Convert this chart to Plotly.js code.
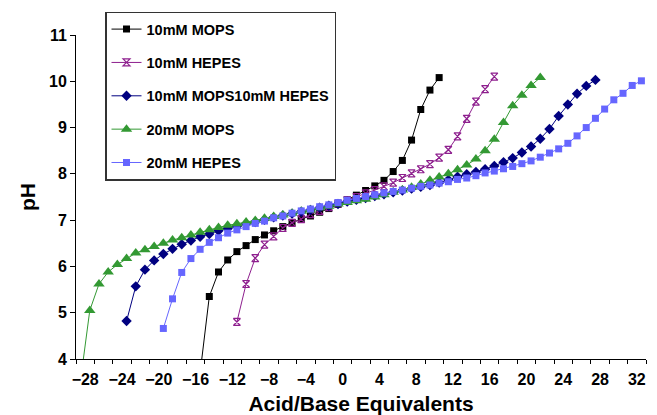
<!DOCTYPE html>
<html>
<head>
<meta charset="utf-8">
<script src="https://cdn.plot.ly/plotly-3.0.1.min.js"></script>
<style>html,body{margin:0;padding:0;background:#fff;}#chart{width:657px;height:415px;}</style>
</head>
<body>
<div id="chart"></div>
<script>
// Acid/Base equivalents (x) and pH (y) for each buffer series
const xMops10 = [-15.5,-14.5,-13.5,-12.5,-11.5,-10.5,-9.5,-8.5,-7.5,-6.5,-5.5,-4.5,-3.5,-2.5,-1.5,-0.5,0.5,1.5,2.5,3.5,4.5,5.5,6.5,7.5,8.5,9.5,10.5];
const yMops10 = [3.7,5.35,5.88,6.14,6.32,6.45,6.58,6.68,6.77,6.86,6.95,7.02,7.09,7.17,7.25,7.34,7.44,7.54,7.64,7.74,7.86,8.05,8.29,8.73,9.39,9.81,10.08];

const xHepes10 = [-11.5,-10.5,-9.5,-8.5,-7.5,-6.5,-5.5,-4.5,-3.5,-2.5,-1.5,-0.5,0.5,1.5,2.5,3.5,4.5,5.5,6.5,7.5,8.5,9.5,10.5,11.5,12.5,13.5,14.5,15.5,16.5];
const yHepes10 = [4.80,5.62,6.18,6.47,6.65,6.83,6.94,7.02,7.13,7.20,7.28,7.36,7.43,7.50,7.58,7.65,7.73,7.81,7.91,8.01,8.10,8.21,8.35,8.52,8.81,9.19,9.56,9.83,10.10];

const xMix = [-23.5,-22.5,-21.5,-20.5,-19.5,-18.5,-17.5,-16.5,-15.5,-14.5,-13.5,-12.5,-11.5,-10.5,-9.5,-8.5,-7.5,-6.5,-5.5,-4.5,-3.5,-2.5,-1.5,-0.5,0.5,1.5,2.5,3.5,4.5,5.5,6.5,7.5,8.5,9.5,10.5,11.5,12.5,13.5,14.5,15.5,16.5,17.5,18.5,19.5,20.5,21.5,22.5,23.5,24.5,25.5,26.5,27.5];
const yMix = [4.82,5.57,5.93,6.13,6.27,6.38,6.48,6.56,6.64,6.70,6.77,6.82,6.87,6.92,6.96,7.01,7.06,7.10,7.14,7.18,7.22,7.27,7.31,7.35,7.40,7.44,7.48,7.52,7.56,7.60,7.64,7.68,7.72,7.76,7.81,7.87,7.94,7.99,8.04,8.10,8.17,8.25,8.34,8.46,8.59,8.76,8.97,9.25,9.50,9.73,9.90,10.03];

const xMops20 = [-28.5,-27.5,-26.5,-25.5,-24.5,-23.5,-22.5,-21.5,-20.5,-19.5,-18.5,-17.5,-16.5,-15.5,-14.5,-13.5,-12.5,-11.5,-10.5,-9.5,-8.5,-7.5,-6.5,-5.5,-4.5,-3.5,-2.5,-1.5,-0.5,0.5,1.5,2.5,3.5,4.5,5.5,6.5,7.5,8.5,9.5,10.5,11.5,12.5,13.5,14.5,15.5,16.5,17.5,18.5,19.5,20.5,21.5];
const yMops20 = [3.55,5.05,5.62,5.88,6.04,6.17,6.29,6.36,6.43,6.50,6.57,6.62,6.68,6.74,6.79,6.84,6.89,6.92,6.96,6.99,7.04,7.08,7.11,7.15,7.19,7.22,7.27,7.30,7.35,7.38,7.42,7.45,7.50,7.55,7.60,7.65,7.71,7.78,7.86,7.93,8.00,8.09,8.19,8.32,8.50,8.75,9.11,9.47,9.70,9.91,10.08];

const xHepes20 = [-19.5,-18.5,-17.5,-16.5,-15.5,-14.5,-13.5,-12.5,-11.5,-10.5,-9.5,-8.5,-7.5,-6.5,-5.5,-4.5,-3.5,-2.5,-1.5,-0.5,0.5,1.5,2.5,3.5,4.5,5.5,6.5,7.5,8.5,9.5,10.5,11.5,12.5,13.5,14.5,15.5,16.5,17.5,18.5,19.5,20.5,21.5,22.5,23.5,24.5,25.5,26.5,27.5,28.5,29.5,30.5,31.5,32.5];
const yHepes20 = [4.66,5.30,5.87,6.17,6.37,6.52,6.62,6.72,6.79,6.86,6.93,6.98,7.05,7.09,7.15,7.20,7.24,7.29,7.33,7.38,7.43,7.47,7.51,7.55,7.59,7.62,7.65,7.69,7.73,7.76,7.80,7.83,7.88,7.91,7.96,8.02,8.06,8.11,8.16,8.22,8.28,8.36,8.45,8.54,8.66,8.82,9.00,9.20,9.40,9.60,9.74,9.91,10.01];

const seriesNames = ['10mM MOPS','10mM HEPES','10mM MOPS10mM HEPES','20mM MOPS','20mM HEPES'];
const xTickVals = [-28,-24,-20,-16,-12,-8,-4,0,4,8,12,16,20,24,28,32];
const yTickVals = [4,5,6,7,8,9,10,11];

const FONT = 'Arial, "Liberation Sans", Helvetica, sans-serif';

function tr(x, y, name, color, symbol, size, mline, g) {
  return {
    type: 'scatter', mode: 'lines+markers', x: x, y: y, name: name,
    legendgroup: g,
    line: {color: color, width: 1},
    marker: {color: color, symbol: symbol, size: size, line: {color: color, width: mline}},
    cliponaxis: true
  };
}

const data = [
  tr(xMops10, yMops10, seriesNames[0], '#000000', 'square', 7, 0, 'a'),
  tr(xHepes10, yHepes10, seriesNames[1], '#8e1f8e', 'hourglass-open', 7, 1.2, 'b'),
  tr(xMix, yMix, seriesNames[2], '#000080', 'diamond', 8, 0, 'c'),
  tr(xMops20, yMops20, seriesNames[3], '#339933', 'triangle-up', 10, 0, 'd'),
  tr(xHepes20, yHepes20, seriesNames[4], '#6666ff', 'square', 7, 0, 'e')
];

const layout = {
  width: 657, height: 415,
  margin: {l: 76, r: 11, t: 35, b: 56, pad: 0},
  paper_bgcolor: '#ffffff', plot_bgcolor: '#ffffff',
  font: {family: FONT, color: '#000000'},
  showlegend: true,
  legend: {
    x: 0.0509, y: 1.072, xanchor: 'left', yanchor: 'top',
    bgcolor: '#ffffff', bordercolor: '#333333', borderwidth: 1.5,
    font: {family: FONT, size: 14.5, weight: 'bold', color: '#000000'},
    tracegroupgap: 11.5, traceorder: 'grouped'
  },
  xaxis: {
    range: [-29, 33], showgrid: false, zeroline: false,
    showline: true, linecolor: '#000000', linewidth: 1,
    tickmode: 'array', tickvals: xTickVals, ticks: '',
    ticklabelstandoff: 6,
    tickfont: {family: FONT, size: 16, weight: 'bold'},
    minor: {ticks: 'outside', tickmode: 'linear', tick0: -29, dtick: 2, ticklen: 4, tickcolor: '#000000', tickwidth: 1, showgrid: false},
    title: {text: 'Acid/Base Equivalents', font: {family: FONT, size: 21, weight: 'bold'}, standoff: 11}
  },
  yaxis: {
    range: [4, 11], showgrid: false, zeroline: false,
    showline: true, linecolor: '#000000', linewidth: 1,
    tickmode: 'array', tickvals: yTickVals, ticks: 'outside', ticklen: 5, tickcolor: '#000000',
    tickfont: {family: FONT, size: 16, weight: 'bold'},
    title: {text: 'pH', font: {family: FONT, size: 21, weight: 'bold'}, standoff: 7}
  }
};

Plotly.newPlot('chart', data, layout, {displayModeBar: false, staticPlot: true});
</script>
</body>
</html>
